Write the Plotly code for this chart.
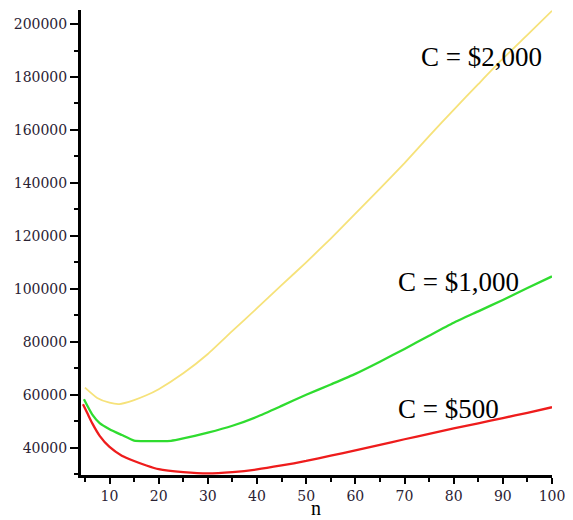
import plotly.graph_objects as go

# Data
n_red = [4.6, 5.5, 6.5, 8, 10, 12.5, 15, 17.5, 20, 25, 30, 35, 40, 45, 50, 55, 60, 65, 70, 75, 80, 85, 90, 95, 100]
cost_red = [56400, 53000, 49200, 44500, 40300, 37000, 35000, 33300, 31900, 30800, 30300, 30800, 31800, 33300,
            35000, 37000, 39000, 41100, 43200, 45200, 47300, 49200, 51200, 53200, 55300]

n_green = [4.8, 6.5, 8, 10, 12.5, 15, 17.5, 20, 22.5, 25, 30, 35, 40, 45, 50, 55, 60, 65, 70, 75, 80, 85, 90, 95, 100]
cost_green = [58300, 52500, 49300, 47000, 44800, 42700, 42500, 42500, 42600, 43500, 45700, 48300, 51700, 55800,
              60000, 63900, 67900, 72500, 77300, 82300, 87200, 91500, 95800, 100300, 104700]

n_yellow = [5, 7.5, 10, 12, 15, 17.5, 20, 25, 30, 35, 40, 45, 50, 55, 60, 65, 70, 75, 80, 85, 90, 95, 100]
cost_yellow = [62700, 58800, 57000, 56500, 58000, 59800, 62100, 68100, 75400, 84100, 92700, 101400, 110000,
               119000, 128400, 137800, 147500, 157700, 167600, 177300, 186900, 195900, 205000]

labels = ["C = $2,000", "C = $1,000", "C = $500"]
label_x = [73.0, 68.2, 68.2]
label_y = [187700, 102700, 54600]

fig = go.Figure()
fig.add_trace(go.Scatter(x=n_yellow, y=cost_yellow, mode="lines",
                         line=dict(color="#f6e27a", width=1.8, shape="spline", smoothing=0.5)))
fig.add_trace(go.Scatter(x=n_green, y=cost_green, mode="lines",
                         line=dict(color="#2fdc2f", width=2.3, shape="spline", smoothing=0.5)))
fig.add_trace(go.Scatter(x=n_red, y=cost_red, mode="lines",
                         line=dict(color="#ee1c1c", width=2.3, shape="spline", smoothing=0.5)))

for t, x, y in zip(labels, label_x, label_y):
    fig.add_annotation(x=x, y=y, text=t, showarrow=False, xanchor="left", yanchor="middle",
                       font=dict(family="Liberation Serif", size=27, color="black"))

# axis title "n" placed just under the tick labels, kept inside the figure
fig.add_annotation(x=0.499, y=-0.0968, xref="paper", yref="paper", text="n", showarrow=False,
                   xanchor="center", yanchor="bottom", borderpad=0,
                   font=dict(family="Liberation Serif", size=20, color="black"))

tickfont = dict(family="DejaVu Serif", size=14, color="#2a2233")

# the page body has an 8px margin, so the figure is sized/offset to compensate
fig.update_layout(
    width=565, height=512,
    margin=dict(l=73, r=21, t=2, b=45),
    paper_bgcolor="white", plot_bgcolor="white",
    showlegend=False,
    xaxis=dict(range=[4.2, 100], tickmode="linear", tick0=10, dtick=10, automargin=False,
               ticklabeloverflow="allow",
               showgrid=False, zeroline=False, showline=True, linecolor="black", linewidth=3,
               ticks="outside", ticklen=6, tickwidth=2, tickcolor="black", tickfont=tickfont,
               minor=dict(tick0=5, dtick=5, ticks="outside", ticklen=4, tickwidth=2, tickcolor="black",
                          showgrid=False)),
    yaxis=dict(range=[29700, 205300], tickmode="linear", tick0=40000, dtick=20000, automargin=False,
               ticklabeloverflow="allow",
               showgrid=False, zeroline=False, showline=True, linecolor="black", linewidth=3,
               ticks="outside", ticklen=8, tickwidth=2, tickcolor="black", tickfont=tickfont,
               tickformat="d",
               minor=dict(tick0=30000, dtick=10000, ticks="outside", ticklen=4, tickwidth=2, tickcolor="black",
                          showgrid=False)),
)

fig.write_html("out.html")
